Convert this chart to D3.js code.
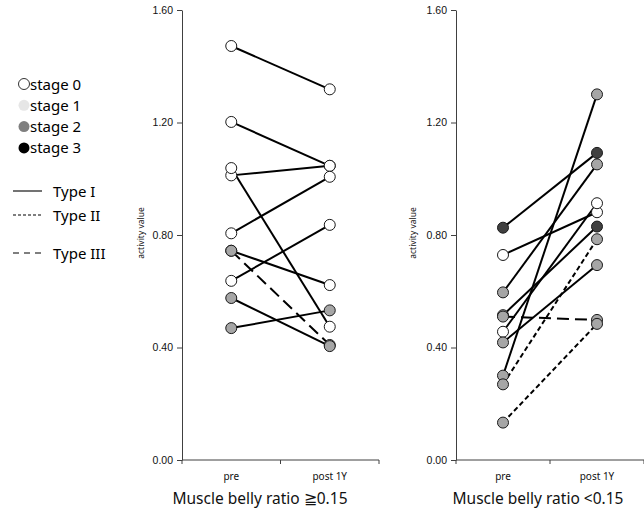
<!DOCTYPE html>
<html>
<head>
<meta charset="utf-8">
<script src="https://cdn.jsdelivr.net/npm/d3@7"></script>
<style>
  body { margin: 0; background: #fff; }
  svg { display: block; font-family: "Noto Sans", "Open Sans", sans-serif; }
</style>
</head>
<body>
<div id="chart"></div>
<script>
// values
const categories = ['pre', 'post 1Y'];
const yTicks = [0, 0.4, 0.8, 1.2, 1.6];

// stage: 0 white, 2 gray, 3 dark ; type: 1 solid, 2 short dash, 3 long dash
const leftPre       = [1.472, 1.202, 1.012, 1.038, 0.806, 0.744, 0.744, 0.637, 0.576, 0.469];
const leftPost      = [1.318, 1.046, 1.046, 0.474, 1.007, 0.622, 0.409, 0.836, 0.405, 0.532];
const leftPreStage  = [0, 0, 0, 0, 0, 2, 2, 0, 2, 2];
const leftPostStage = [0, 0, 0, 0, 0, 0, 2, 0, 2, 2];
const leftType      = [1, 1, 1, 1, 1, 1, 3, 1, 1, 1];

const rightPre       = [0.826, 0.729, 0.596, 0.515, 0.510, 0.456, 0.418, 0.300, 0.269, 0.133];
const rightPost      = [1.092, 0.881, 1.051, 0.830, 0.498, 0.913, 0.693, 1.300, 0.785, 0.484];
const rightPreStage  = [3, 0, 2, 2, 2, 0, 2, 2, 2, 2];
const rightPostStage = [3, 0, 2, 3, 2, 0, 2, 2, 2, 2];
const rightType      = [1, 1, 1, 1, 3, 1, 1, 1, 2, 2];

const stageLabels = ['stage 0', 'stage 1', 'stage 2', 'stage 3'];
const typeLabels = ['Type I', 'Type II', 'Type III'];

const width = 644;
const height = 509;

const markFill = { 0: '#ffffff', 1: '#e6e6e6', 2: '#a6a6a6', 3: '#404040' };
const legendFill = ['#ffffff', '#e6e6e6', '#7f7f7f', '#000000'];
const dashes = { 1: null, 2: '5,3', 3: '12,6' };
const legendDashes = [null, '3,2', '6,5'];

const svg = d3.select('#chart').append('svg')
  .attr('width', width)
  .attr('height', height);

const y = d3.scaleLinear().domain([0, 1.6]).range([460, 10]);

function drawPanel(opts) {
  const x = d3.scaleBand().domain(categories).range([opts.x0, opts.x1]);
  const cx = d => x(d) + x.bandwidth() / 2;
  const g = svg.append('g');

  // y axis
  const yAxis = d3.axisLeft(y)
    .tickValues(yTicks)
    .tickFormat(d3.format('.2f'))
    .tickSize(5)
    .tickSizeOuter(0)
    .tickPadding(4);

  const ya = g.append('g')
    .attr('transform', 'translate(' + opts.x0 + ',0)')
    .call(yAxis);
  ya.select('.domain').attr('stroke', '#404040');
  ya.selectAll('.tick line').attr('stroke', '#404040');
  ya.selectAll('.tick text').attr('fill', '#111').style('font-size', '10.5px');

  // x axis, ticks between categories like the spreadsheet
  g.append('line')
    .attr('x1', opts.x0).attr('x2', opts.x1)
    .attr('y1', y(0)).attr('y2', y(0))
    .attr('stroke', '#404040');

  const bounds = [opts.x0].concat(categories.map(c => x(c) + x.step()));
  g.selectAll('.xtick').data(bounds).join('line')
    .attr('class', 'xtick')
    .attr('x1', d => d).attr('x2', d => d)
    .attr('y1', y(0)).attr('y2', y(0) + 4)
    .attr('stroke', '#404040');

  g.selectAll('.xlab').data(categories).join('text')
    .attr('class', 'xlab')
    .attr('x', d => cx(d))
    .attr('y', 480)
    .attr('text-anchor', 'middle')
    .attr('fill', '#111')
    .style('font-size', '10px')
    .text(d => d);

  // y title
  g.append('text')
    .attr('transform', 'translate(' + opts.ytX + ',233) rotate(-90)')
    .attr('text-anchor', 'middle')
    .attr('fill', '#111')
    .style('font-size', '8.5px')
    .text('activity value');

  // panel title
  g.append('text')
    .attr('x', opts.titleX)
    .attr('y', 504)
    .attr('text-anchor', 'middle')
    .attr('fill', '#111')
    .style('font-size', '15.5px')
    .text(opts.title);

  const idx = d3.range(opts.pre.length);

  // connecting lines
  g.selectAll('.pair').data(idx).join('line')
    .attr('class', 'pair')
    .attr('x1', cx(categories[0]))
    .attr('x2', cx(categories[1]))
    .attr('y1', i => y(opts.pre[i]))
    .attr('y2', i => y(opts.post[i]))
    .attr('stroke', '#000')
    .attr('stroke-width', 2)
    .attr('stroke-dasharray', i => dashes[opts.type[i]]);

  // markers
  const pts = [];
  idx.forEach(i => {
    pts.push({ c: categories[0], v: opts.pre[i], s: opts.preStage[i] });
    pts.push({ c: categories[1], v: opts.post[i], s: opts.postStage[i] });
  });

  g.selectAll('.pt').data(pts).join('circle')
    .attr('class', 'pt')
    .attr('cx', d => cx(d.c))
    .attr('cy', d => y(d.v))
    .attr('r', 5.5)
    .attr('fill', d => markFill[d.s])
    .attr('stroke', '#1a1a1a')
    .attr('stroke-width', 1);
}

drawPanel({
  x0: 182, x1: 379, ytX: 144, titleX: 260,
  title: 'Muscle belly ratio \u22670.15',
  pre: leftPre, post: leftPost,
  preStage: leftPreStage, postStage: leftPostStage, type: leftType
});

drawPanel({
  x0: 456, x1: 644, ytX: 416, titleX: 538,
  title: 'Muscle belly ratio <0.15',
  pre: rightPre, post: rightPost,
  preStage: rightPreStage, postStage: rightPostStage, type: rightType
});

// legend
const leg = svg.append('g');
const stageRows = leg.selectAll('.stage').data(stageLabels).join('g')
  .attr('class', 'stage')
  .attr('transform', (d, i) => 'translate(0,' + (84 + i * 21.3) + ')');

stageRows.append('circle')
  .attr('cx', 24).attr('cy', 0).attr('r', 5.5)
  .attr('fill', (d, i) => legendFill[i])
  .attr('stroke', (d, i) => i === 0 ? '#000' : 'none')
  .attr('stroke-width', 0.8);

stageRows.append('text')
  .attr('x', 30).attr('y', 5.5)
  .attr('fill', '#000')
  .style('font-size', '15px')
  .text(d => d);

const typeY = [191, 215, 253];
const typeRows = leg.selectAll('.type').data(typeLabels).join('g')
  .attr('class', 'type')
  .attr('transform', (d, i) => 'translate(0,' + typeY[i] + ')');

typeRows.append('line')
  .attr('x1', 13).attr('x2', 42)
  .attr('stroke', '#000')
  .attr('stroke-width', 1.1)
  .attr('stroke-dasharray', (d, i) => legendDashes[i]);

typeRows.append('text')
  .attr('x', 53).attr('y', 5.5)
  .attr('fill', '#000')
  .style('font-size', '15px')
  .text(d => d);
</script>
</body>
</html>
